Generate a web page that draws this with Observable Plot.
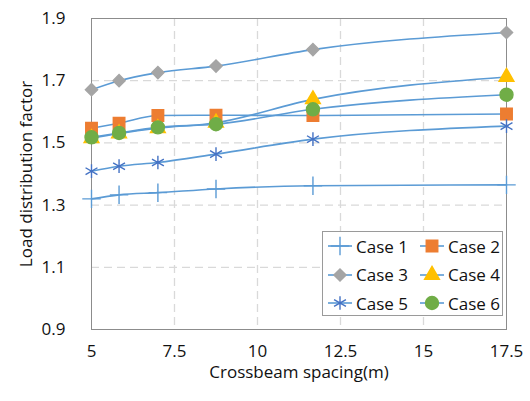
<!DOCTYPE html>
<html><head><meta charset="utf-8">
<script src="https://cdn.jsdelivr.net/npm/d3@7"></script>
<script src="https://cdn.jsdelivr.net/npm/@observablehq/plot@0.6"></script>
<style>
body{margin:0;background:#fff;font-family:"Open Sans",sans-serif;}
#wrap{position:relative;width:530px;height:401px;}
#legend{position:absolute;left:322px;top:231px;width:181px;height:85px;border:1px solid #9a9a9a;background:#fff;box-sizing:border-box;font-size:17px;color:#111;}
.item{position:absolute;display:flex;align-items:center;height:24px;}
.item svg{margin-right:3px;}
</style></head>
<body><div id="wrap"><div id="legend"></div></div>
<script>
const spacing = [5, 5.83, 7, 8.75, 11.67, 17.5];
const case1 = [1.320, 1.333, 1.340, 1.352, 1.362, 1.365];
const case2 = [1.547, 1.563, 1.588, 1.589, 1.588, 1.593];
const case3 = [1.671, 1.700, 1.726, 1.747, 1.800, 1.855];
const case4 = [1.515, 1.530, 1.547, 1.565, 1.640, 1.712];
const case5 = [1.409, 1.425, 1.437, 1.464, 1.512, 1.554];
const case6 = [1.518, 1.532, 1.550, 1.560, 1.608, 1.655];
const xTicks = [5, 7.5, 10, 12.5, 15, 17.5];
const yTicks = [0.9, 1.1, 1.3, 1.5, 1.7, 1.9];
const names = ["Case 1","Case 2","Case 3","Case 4","Case 5","Case 6"];

const lineColor = "#5B9BD5";
const styles = [
  {symbol:"plus", fill:"none", stroke:"#5B9BD5", r:6},
  {symbol:"square", fill:"#ED7D31", stroke:"#ED7D31", r:6.5},
  {symbol:"diamond2", fill:"#A5A5A5", stroke:"#A5A5A5", r:5.5},
  {symbol:"triangle", fill:"#FFC000", stroke:"#FFC000", r:5.5},
  {symbol:"asterisk", fill:"none", stroke:"#4472C4", r:6.5},
  {symbol:"circle", fill:"#70AD47", stroke:"#70AD47", r:6.5}
];
const series = [case1, case2, case3, case4, case5, case6];
const rows = series.flatMap((vals, i) => vals.map((v, j) => ({name: names[i], idx: i, x: spacing[j], y: v})));

const chart = Plot.plot({
  width: 530, height: 401,
  marginLeft: 91, marginRight: 24, marginTop: 18, marginBottom: 72,
  style: {fontFamily: "Open Sans", fontSize: "17px", color: "#111", background: "#fff"},
  x: {domain: [5, 17.5]},
  y: {domain: [0.9, 1.9]},
  marks: [
    Plot.ruleX(xTicks.slice(1, -1), {stroke: "#d9d9d9", strokeWidth: 1.3, strokeDasharray: "8,5"}),
    Plot.ruleY(yTicks.slice(1, -1), {stroke: "#d9d9d9", strokeWidth: 1.3, strokeDasharray: "8,5"}),
    Plot.frame({stroke: "#8c8c8c", strokeWidth: 1}),
    Plot.axisX({ticks: xTicks, tickSize: 0, tickPadding: 15, tickFormat: d => String(d), label: "Crossbeam spacing(m)", labelAnchor: "center", labelArrow: "none", labelOffset: 48}),
    Plot.axisY({ticks: yTicks, tickSize: 0, tickPadding: 26, tickFormat: d3.format(".1f"), label: "Load distribution factor", labelAnchor: "center", labelArrow: "none", labelOffset: 72}),
    Plot.line(rows, {x: "x", y: "y", z: "name", stroke: lineColor, strokeWidth: 1.6, curve: "monotone-x"}),
    ...styles.map((s, i) => Plot.dot(rows.filter(d => d.idx === i), {x: "x", y: "y", symbol: s.symbol, r: s.r, fill: s.fill, stroke: s.stroke, strokeWidth: 1.4}))
  ]
});
document.getElementById("wrap").prepend(chart);

// legend
const legend = document.getElementById("legend");
const shapes = {plus: d3.symbolPlus, square: d3.symbolSquare, diamond2: d3.symbolDiamond2, triangle: d3.symbolTriangle, asterisk: d3.symbolAsterisk, circle: d3.symbolCircle};
names.forEach((n, i) => {
  const s = styles[i];
  const div = document.createElement("div");
  div.className = "item";
  div.style.left = (i % 2 === 0 ? 4 : 96) + "px";
  div.style.top = (2 + Math.floor(i / 2) * 28.5) + "px";
  const svg = d3.create("svg").attr("width", 26).attr("height", 20);
  svg.append("line").attr("x1", 1).attr("x2", 25).attr("y1", 10).attr("y2", 10).attr("stroke", lineColor).attr("stroke-width", 1.6);
  svg.append("path").attr("transform", "translate(13,10)")
    .attr("d", d3.symbol(shapes[s.symbol], Math.PI * s.r * s.r)())
    .attr("fill", s.fill).attr("stroke", s.stroke).attr("stroke-width", 1.4);
  div.appendChild(svg.node());
  const t = document.createElement("span");
  t.textContent = n;
  div.appendChild(t);
  legend.appendChild(div);
});
</script></body></html>
